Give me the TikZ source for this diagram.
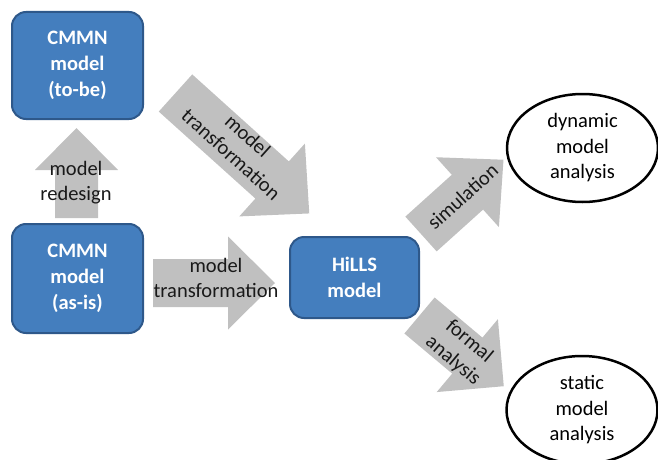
\documentclass[tikz,border=0pt]{standalone}
\usepackage{fontspec}
\setmainfont{Carlito}
\usetikzlibrary{shapes.geometric}

\definecolor{boxblue}{RGB}{68,126,190}
\definecolor{boxline}{RGB}{46,88,138}
\definecolor{arrowgray}{RGB}{192,192,192}

\tikzset{
  modelbox/.style={draw=boxline,line width=2pt,fill=boxblue,rounded corners=14pt,
    text=white,font=\bfseries\fontsize{20.5}{26}\selectfont,align=center,inner sep=0pt},
  result/.style={draw,ellipse,line width=2.5pt,minimum width=151pt,minimum height=108pt,
    inner sep=0pt,font=\fontsize{20.5}{25.5}\selectfont,align=center},
  arrowlbl/.style={font=\fontsize{20.5}{25}\selectfont,align=center,inner sep=0pt,text=black!90},
  pics/blockarrow/.style n args={4}{code={
    \fill[arrowgray] (0,-#2) -- ({#1-#4},-#2) -- ({#1-#4},-#3) -- (#1,0)
      -- ({#1-#4},#3) -- ({#1-#4},#2) -- (0,#2) -- cycle;
  }}
}

\begin{document}
\begin{tikzpicture}[x=1pt,y=-1pt]
\useasboundingbox (0,0) rectangle (658,460);

% block arrows
\pic[rotate=90] at (76.5,218) {blockarrow={90}{21.5}{41.5}{42}};
\pic at (153,283) {blockarrow={122}{24}{46.5}{47}};
\pic[rotate=-42] at (175.5,93) {blockarrow={180}{25}{49}{50}};
\pic[rotate=42] at (421,234) {blockarrow={111}{23.4}{47}{48.5}};
\pic[rotate=-40] at (419.5,315.5) {blockarrow={110}{23.5}{47.6}{47.6}};

% labels on the arrows
\node[arrowlbl] (redesign) at (76,183) {model\\redesign};
\node[arrowlbl] (trans1) at (216,278) {model\\transformation};
\node[arrowlbl,rotate=-42] (trans2) at (239.5,145) {model\\transformation};
\node[arrowlbl,rotate=42] (sim) at (462.5,196.5) {simulation};
\node[arrowlbl,rotate=-40] (formal) at (461,351) {formal\\analysis};

% models
\node[modelbox,minimum width=131pt,minimum height=107pt] (tobe) at (77.5,65.5) {CMMN\\model\\(to-be)};
\node[modelbox,minimum width=131pt,minimum height=109pt] (asis) at (77.5,278.5) {CMMN\\model\\(as-is)};
\node[modelbox,minimum width=129pt,minimum height=81pt] (hills) at (354.5,277.5) {HiLLS\\model};

% analyses
\node[result] (dyn) at (582.5,148) {dynamic\\model\\analysis};
\node[result] (stat) at (582,410) {static\\model\\analysis};
\end{tikzpicture}
\end{document}
